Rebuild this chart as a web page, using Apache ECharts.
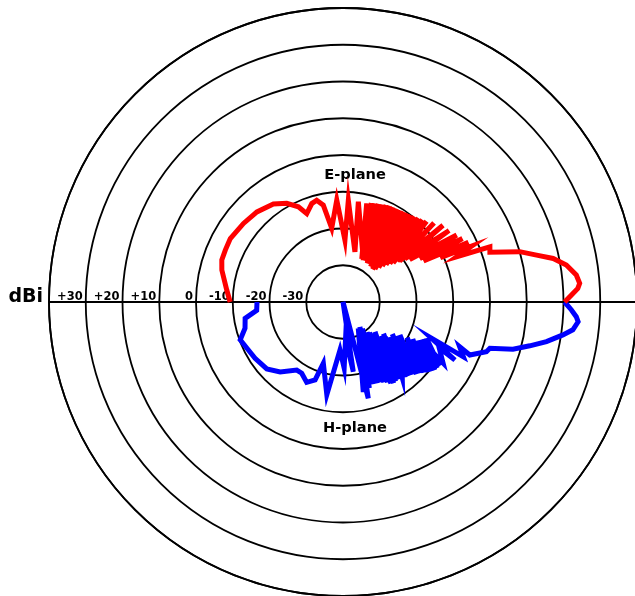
<!DOCTYPE html>
<html><head><meta charset="utf-8">
<script src="https://cdn.jsdelivr.net/npm/echarts@6/dist/echarts.min.js"></script>
<style>html,body{margin:0;padding:0;background:#fff}#chart{width:635px;height:596px}</style>
</head><body><div id="chart"></div>
<script>
// Radial scale (dBi) and its tick labels
const radiusTicks = [-40, -30, -20, -10, 0, 10, 20, 30, 40];
const tickLabels = ['', '-30', '-20', '-10', '0', '+10', '+20', '+30', ''];
const planeNames = ['E-plane', 'H-plane'];

// E-plane: angle from boresight, counter-clockwise (upper half), degrees
const eAngle = [180, 174.1, 165.2, 160.9, 156.2, 150.6, 141.7, 133.7, 125.4, 119.7,
  115.1, 112.3, 107.6, 104.5, 101.5, 98.7, 93.5, 88.2, 87, 76.6,
  81.3, 64.2, 76.5, 66.5, 74, 64, 72, 62, 70, 60,
  68, 58, 66, 56, 64, 54, 62, 52, 60, 50,
  58, 48, 56, 46, 54, 44, 52, 42.5, 50, 41,
  48, 39.5, 46, 38, 44, 37, 41, 36, 37.5, 35,
  34, 32.5, 30.5, 29.5, 28, 27, 25.5, 24.5, 23.5, 21.7,
  20.6, 18.7, 15.9, 13.6, 11.7, 9.4, 6.6, 4.5, 3.3, 1.75,
  0];
const eGain = [-9.3, -8.2, -5.9, -5.1, -5.0, -4.8, -5.5, -6.1, -7.3, -9.1,
  -11.4, -14.0, -11.9, -11.4, -13.1, -19.7, -12.2, -23.2, -12.3, -26.0,
  -12.4, -27.3, -12.4, -27.2, -12.0, -26.5, -11.8, -27.3, -11.6, -26.0,
  -11.4, -27.6, -11.1, -26.8, -10.9, -27.0, -10.8, -27.8, -10.7, -26.5,
  -10.6, -28.0, -10.4, -27.5, -10.2, -26.5, -10.0, -25.5, -9.7, -24.5,
  -9.3, -23.5, -8.9, -22.7, -8.4, -21.5, -7.2, -21.0, -5.7, -19.5,
  -5.2, -18.5, -4.1, -16.0, -3.2, -15.4, -2.2, -10.9, -1.8, -6.7,
  2.7, 2.2, 10.0, 14.2, 18.4, 21.6, 23.9, 24.6, 24.0, 22.2,
  20.3];

// H-plane: angle from boresight, clockwise (lower half), degrees
const hAngle = [180, 174.5, 170.5, 165, 159.8, 154.3, 147.4, 138.7, 131.9, 124.2,
  120.1, 114.3, 109.7, 107.8, 99.9, 93.6, 89, 86, 81.6, 90,
  75.3, 60, 77.3, 58, 73, 56, 70, 54, 67, 51.5,
  65, 49, 63, 47.3, 61, 45, 59.5, 43, 58, 41,
  56.5, 39.5, 55, 38, 53.5, 36.5, 52, 35.1, 50.5, 34,
  49, 33, 47.5, 31.5, 46, 30.1, 44.5, 29, 43, 28,
  41, 27, 39.5, 26, 38, 25, 36.5, 24, 35, 23.5,
  33.5, 28, 31.4, 25.5, 27.4, 22.2, 24.5, 21, 22.7, 19.1,
  17.5, 15.5, 13.2, 11.0, 8.5, 6.9, 4.8, 3.6, 2.0, 0];
const hGain = [-16.6, -16.4, -13.0, -12.4, -10.2, -11.0, -11.6, -12.4, -14.4, -17.6,
  -17.6, -16.0, -17.5, -22.5, -14.4, -26.9, -22, -30, -20.8, -40,
  -12.9, -31.7, -14.9, -30.5, -15.5, -31.8, -16.2, -31.0, -16.0, -29.5,
  -15.9, -29.0, -15.5, -27.2, -15.0, -28.1, -14.3, -28.1, -14.0, -26.0,
  -14.1, -25.0, -14.2, -26.0, -14.0, -24.0, -13.8, -20.5, -13.5, -23.0,
  -13.2, -24.0, -13.0, -22.5, -12.6, -22.1, -12.0, -20.0, -11.6, -18.5,
  -10.8, -17.0, -10.0, -16.5, -9.4, -16.0, -8.9, -15.5, -8.7, -15.2,
  -8.5, -14.0, -8.1, -11.0, -5.7, -14.1, -4.0, -6.0, -2.6, 1.3,
  1.9, 8.0, 12.2, 16.4, 20.5, 23.0, 24.2, 23.6, 22.2, 20.3];

const eData = eAngle.map((a, i) => [eGain[i], a]);
const hData = hAngle.map((a, i) => [hGain[i], -a]);

const chart = echarts.init(document.getElementById('chart'), null, { renderer: 'canvas' });
const black = '#000';
const lineW = 1.8;
chart.setOption({
  animation: false,
  backgroundColor: '#fff',
  polar: { center: [343, 302], radius: 294 },
  angleAxis: {
    type: 'value', min: -180, max: 180, interval: 180,
    startAngle: 180, clockwise: false,
    axisLine: { show: true, lineStyle: { color: black, width: lineW } },
    axisTick: { show: false },
    axisLabel: { show: false },
    splitLine: { show: true, lineStyle: { color: black, width: lineW } }
  },
  radiusAxis: {
    type: 'value', min: radiusTicks[0], max: radiusTicks[radiusTicks.length - 1], interval: 10,
    axisLine: { show: false },
    axisTick: { show: false },
    name: 'dBi', nameLocation: 'end', nameGap: 6,
    nameTextStyle: { fontFamily: 'DejaVu Sans', fontWeight: 'bold', fontSize: 19, color: black, verticalAlign: 'bottom', lineHeight: 9 },
    axisLabel: {
      formatter: v => { const k = radiusTicks.indexOf(v); return k >= 0 ? tickLabels[k] : ''; },
      fontFamily: 'DejaVu Sans', fontWeight: 'bold', fontSize: 11.5, color: black,
      align: 'right', verticalAlign: 'bottom', margin: 1, padding: [0, 3, 0, 0]
    },
    splitLine: { show: true, lineStyle: { color: black, width: lineW } }
  },
  series: [
    { name: planeNames[1], type: 'line', coordinateSystem: 'polar', data: hData, symbol: 'none',
      lineStyle: { color: '#0000ff', width: 5, join: 'miter' }, z: 3 },
    { name: planeNames[0], type: 'line', coordinateSystem: 'polar', data: eData, symbol: 'none',
      lineStyle: { color: '#ff0000', width: 5, join: 'miter' }, z: 4 }
  ],
  graphic: [
    { type: 'text', x: 355, y: 175, style: { text: planeNames[0], fontFamily: 'DejaVu Sans', fontWeight: 'bold', fontSize: 14.6, fill: black, align: 'center', verticalAlign: 'middle' } },
    { type: 'text', x: 355, y: 428, style: { text: planeNames[1], fontFamily: 'DejaVu Sans', fontWeight: 'bold', fontSize: 14.6, fill: black, align: 'center', verticalAlign: 'middle' } }
  ]
});
</script></body></html>
